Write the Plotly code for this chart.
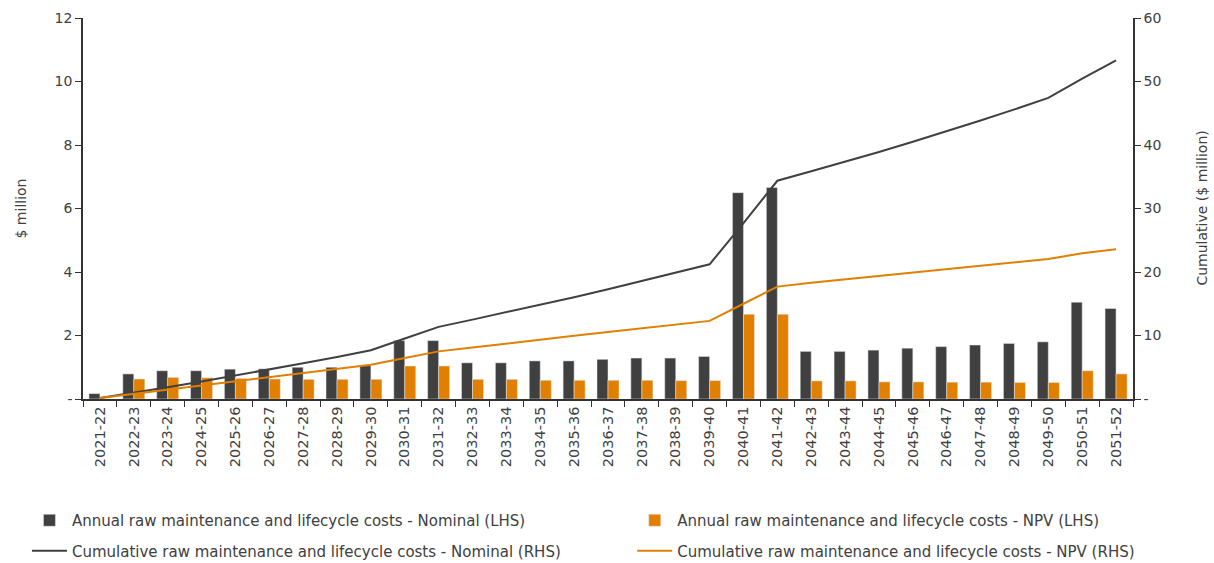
import plotly.graph_objects as go

years = ["2021-22", "2022-23", "2023-24", "2024-25", "2025-26", "2026-27", "2027-28",
         "2028-29", "2029-30", "2030-31", "2031-32", "2032-33", "2033-34", "2034-35",
         "2035-36", "2036-37", "2037-38", "2038-39", "2039-40", "2040-41", "2041-42",
         "2042-43", "2043-44", "2044-45", "2045-46", "2046-47", "2047-48", "2048-49",
         "2049-50", "2050-51", "2051-52"]

annual_nominal = [0.17, 0.79, 0.89, 0.89, 0.94, 0.95, 1.0, 1.0, 1.05, 1.84, 1.84, 1.14, 1.14,
                  1.2, 1.2, 1.25, 1.29, 1.29, 1.34, 6.5, 6.66, 1.5, 1.5, 1.54, 1.6, 1.65,
                  1.7, 1.75, 1.8, 3.05, 2.85]
annual_npv = [0.0, 0.63, 0.68, 0.67, 0.65, 0.63, 0.62, 0.62, 0.62, 1.04, 1.04, 0.62, 0.62,
              0.59, 0.59, 0.59, 0.59, 0.58, 0.58, 2.67, 2.67, 0.57, 0.57, 0.54, 0.54, 0.53,
              0.53, 0.52, 0.52, 0.89, 0.79]
cum_nominal = [0.17, 0.96, 1.85, 2.74, 3.68, 4.63, 5.63, 6.63, 7.68, 9.52, 11.36, 12.5,
               13.64, 14.84, 16.04, 17.29, 18.58, 19.87, 21.21, 27.71, 34.37, 35.87, 37.37,
               38.91, 40.51, 42.16, 43.86, 45.61, 47.41, 50.46, 53.31]
cum_npv = [0.15, 0.8, 1.5, 2.2, 2.85, 3.5, 4.1, 4.75, 5.4, 6.45, 7.5, 8.1, 8.75, 9.35, 9.95,
           10.55, 11.15, 11.75, 12.3, 15.0, 17.7, 18.3, 18.85, 19.4, 19.9, 20.45, 21.0,
           21.5, 22.05, 22.95, 23.6]

left_ticks = [0, 2, 4, 6, 8, 10, 12]
left_labels = ["-", "2", "4", "6", "8", "10", "12"]
right_ticks = [0, 10, 20, 30, 40, 50, 60]
right_labels = ["-", "10", "20", "30", "40", "50", "60"]

dark = "#404040"
orange = "#E07F00"

fig = go.Figure()
fig.add_trace(go.Bar(x=years, y=annual_nominal, marker_color=dark, legend="legend",
                     legendgroup="a",
                     name="Annual raw maintenance and lifecycle costs - Nominal (LHS)"))
fig.add_trace(go.Bar(x=years, y=annual_npv, marker_color=orange, legend="legend2",
                     legendgroup="b",
                     name="Annual raw maintenance and lifecycle costs - NPV (LHS)"))
fig.add_trace(go.Scatter(x=years, y=cum_nominal, mode="lines", yaxis="y2", legend="legend",
                         legendgroup="c", line=dict(color=dark, width=2),
                         name="Cumulative raw maintenance and lifecycle costs - Nominal (RHS)"))
fig.add_trace(go.Scatter(x=years, y=cum_npv, mode="lines", yaxis="y2", legend="legend2",
                         legendgroup="d", line=dict(color=orange, width=2),
                         name="Cumulative raw maintenance and lifecycle costs - NPV (RHS)"))

tick_font = dict(family="DejaVu Sans", size=14, color="#404040")
legend_font = dict(family="DejaVu Sans", size=15, color="#404040")
title_font = dict(family="DejaVu Sans", size=14, color="#404040")

fig.update_layout(
    width=1214, height=563,
    margin=dict(l=83, r=81, t=18, b=164, autoexpand=False),
    plot_bgcolor="white", paper_bgcolor="white",
    barmode="group", bargap=0.35, bargroupgap=0,
    font=dict(family="DejaVu Sans", color="#404040"),
    xaxis=dict(type="category", tickangle=-90,
               tickfont=dict(family="DejaVu Sans", size=14.5, color="#404040"),
               showline=True, linecolor="#333333", linewidth=1.5, ticks="outside",
               tickson="boundaries", ticklen=6, tickcolor="#333333", showgrid=False),
    yaxis=dict(range=[0, 12], tickvals=left_ticks, ticktext=left_labels, tickfont=tick_font,
               showline=True, linecolor="#333333", linewidth=1.5, ticks="outside",
               ticklen=6, tickcolor="#333333", showgrid=False, zeroline=False),
    yaxis2=dict(range=[0, 60], tickvals=right_ticks, ticktext=right_labels, tickfont=tick_font,
                overlaying="y", side="right",
                showline=True, linecolor="#333333", linewidth=1.5, ticks="outside",
                ticklen=6, tickcolor="#333333", showgrid=False, zeroline=False),
    legend=dict(xref="container", yref="container", x=0.0222, y=0.1048,
                xanchor="left", yanchor="top", tracegroupgap=8,
                font=legend_font, itemwidth=35, bgcolor="rgba(0,0,0,0)"),
    legend2=dict(xref="container", yref="container", x=0.5208, y=0.1048,
                 xanchor="left", yanchor="top", tracegroupgap=8,
                 font=legend_font, itemwidth=35, bgcolor="rgba(0,0,0,0)"),
)

fig.add_annotation(text="$ million", xref="paper", yref="paper", x=-0.06, y=0.5,
                   xanchor="center", yanchor="middle", textangle=-90, showarrow=False,
                   font=title_font)
fig.add_annotation(text="Cumulative ($ million)", xref="paper", yref="paper", x=1.0648, y=0.5,
                   xanchor="center", yanchor="middle", textangle=-90, showarrow=False,
                   font=title_font)

# drop the page's default body margin so the figure fills the window exactly
fig.write_html("out.html", config={"displayModeBar": False},
               post_script=["document.body.style.margin = '0';"])
